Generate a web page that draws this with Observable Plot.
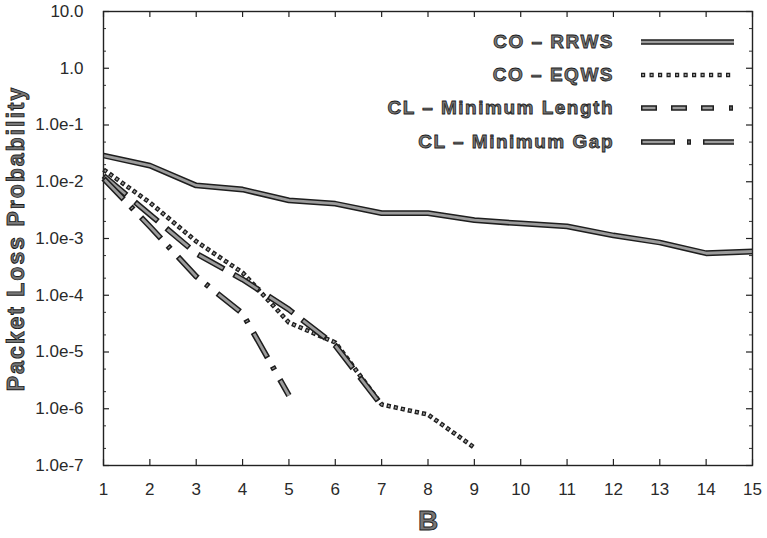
<!DOCTYPE html>
<html><head><meta charset="utf-8">
<script src="https://cdn.jsdelivr.net/npm/d3@7"></script>
<script src="https://cdn.jsdelivr.net/npm/@observablehq/plot@0.6"></script>
<style>
body{margin:0;background:#fff;}
#wrap{position:relative;width:767px;height:538px;}
#wrap svg{font-family:"Liberation Sans",Arial,Helvetica,sans-serif;}
g[aria-label="y-axis label"] text, g[aria-label="x-axis label"] text{font-weight:bold;fill:#777;stroke:#1a1a1a;stroke-width:0.9px;}
g[aria-label="y-axis label"] text{font-size:23px;letter-spacing:2px;}
g[aria-label="x-axis label"] text{font-size:28px;}
#legend{position:absolute;left:300px;top:25px;width:440px;font-family:"Liberation Sans",Arial,Helvetica,sans-serif;}
#legend .row{display:flex;align-items:center;height:33.3px;}
#legend .lab{width:314px;text-align:right;font-weight:bold;font-size:19px;letter-spacing:1.5px;color:#777;-webkit-text-stroke:0.8px #1a1a1a;white-space:nowrap;}
#legend svg{margin-left:26px;}
</style>
</head><body>
<div id="wrap"><div id="legend"></div></div>
<script>
// ---- data ----
const B = [1,2,3,4,5,6,7,8,9,10,11,12,13,14,15];
const seriesNames = ["CO – RRWS", "CO – EQWS", "CL – Minimum Length", "CL – Minimum Gap"];
const rrws = [0.029, 0.0193, 0.0086, 0.0073, 0.0047, 0.0041, 0.0028, 0.0028, 0.0021, 0.00184, 0.00163, 0.00113, 0.00085, 0.00055, 0.00059];
const eqws = [0.0164, 0.0043, 8.9e-4, 2.5e-4, 3.3e-5, 1.47e-5, 1.19e-6, 7.9e-7, 2.07e-7];
const minLength = [0.0128, 0.00265, 5.45e-4, 1.9e-4, 5.6e-5, 1.3e-5, 1.14e-6];
const minGap = [0.0114, 0.00163, 2.14e-4, 4.77e-5, 1.71e-6];
const yTicks = [10, 1, 1e-1, 1e-2, 1e-3, 1e-4, 1e-5, 1e-6, 1e-7];
const yTickLabels = ["10.0", "1.0", "1.0e-1", "1.0e-2", "1.0e-3", "1.0e-4", "1.0e-5", "1.0e-6", "1.0e-7"];
const xTickLabels = B.map(String);

// ---- styles ----
const OUT = "#1e1e1e", IN = "#9c9c9c";
const styles = [
  {outer: null, inner: null, off: 0, wo: 5.8, wi: 2.8},
  {outer: "4.2 3", inner: "1.8 5.4", off: -1.2, wo: 4.6, wi: 1.9},
  {outer: "30 11", inner: "27 14", off: -1.5, wo: 5.8, wi: 2.8},
  {outer: "29 10 4 11", inner: "26 13 1 14", off: -1.5, wo: 5.8, wi: 2.8}
];
const valuesList = [rrws, eqws, minLength, minGap];
const rows = valuesList.flatMap((vals, s) => vals.map((p, i) => ({s, B: B[i], p})));

const minorTicks = d3.range(-7, 1).flatMap(k => [2 * 10 ** k, 5 * 10 ** k]);
const fmtY = d => yTickLabels[yTicks.findIndex(t => Math.abs(Math.log10(t) - Math.log10(d)) < 1e-6)];

const PW = 767 - 103 - 15, PH = 538 - 11 - 73;
const lineMarks = [];
styles.forEach((st, s) => {
  const data = rows.filter(r => r.s === s);
  lineMarks.push(Plot.line(data, {x: "B", y: "p", stroke: OUT, strokeWidth: st.wo, strokeDasharray: st.outer, strokeLinejoin: "round", strokeLinecap: "butt"}));
  lineMarks.push(Plot.line(data, {x: "B", y: "p", stroke: IN, strokeWidth: st.wi, strokeDasharray: st.inner, strokeDashoffset: st.off, strokeLinejoin: "round", strokeLinecap: "butt"}));
});

const chart = Plot.plot({
  width: 767, height: 538,
  marginLeft: 103, marginRight: 15, marginTop: 11, marginBottom: 73,
  style: {fontFamily: "Liberation Sans, Arial, Helvetica, sans-serif", fontSize: "17px", color: "#2a2a2a", background: "white"},
  x: {domain: [1, 15]},
  y: {type: "log", domain: [1e-7, 10]},
  marks: [
    Plot.axisX({ticks: B, tickSize: 0, tickPadding: 17, tickFormat: d => xTickLabels[B.indexOf(d)], label: "B", labelAnchor: "center", labelArrow: "none", labelOffset: 64}),
    Plot.axisY({ticks: yTicks, tickSize: 0, tickPadding: 20, tickFormat: fmtY, label: "Packet Loss Probability", labelAnchor: "center", labelArrow: "none", labelOffset: 96}),
    Plot.tickX(B, {x: d => d, insetTop: PH - 6, stroke: "#222", strokeWidth: 1.2}),
    Plot.tickX(B, {x: d => d, insetBottom: PH - 6, stroke: "#222", strokeWidth: 1.2}),
    Plot.tickY(yTicks, {y: d => d, insetRight: PW - 6, stroke: "#222", strokeWidth: 1.2}),
    Plot.tickY(yTicks, {y: d => d, insetLeft: PW - 6, stroke: "#222", strokeWidth: 1.2}),
    Plot.tickY(minorTicks, {y: d => d, insetRight: PW - 3, stroke: "#333"}),
    Plot.tickY(minorTicks, {y: d => d, insetLeft: PW - 3, stroke: "#333"}),
    ...lineMarks,
    Plot.frame({stroke: "#222", strokeWidth: 1.4})
  ]
});
document.getElementById("wrap").prepend(chart);

// ---- legend ----
const legend = d3.select("#legend");
seriesNames.forEach((name, s) => {
  const row = legend.append("div").attr("class", "row");
  row.append("span").attr("class", "lab").text(name);
  const svg = row.append("svg").attr("width", 95).attr("height", 10);
  const lg = [
    {o: null, i: null, off: 0, wo: 5.4, wi: 2.6},
    {o: "4.2 4.3", i: "1.8 6.7", off: -1.2, wo: 4.5, wi: 1.8},
    {o: "16 14 16 14 13 15 4 30", i: "13 17 13 17 10 18 1 33", off: -1.5, wo: 5.4, wi: 2.6},
    {o: "34 12 4 12 40", i: "31 15 1 15 37", off: -1.5, wo: 5.4, wi: 2.6}
  ][s];
  [[OUT, lg.wo, lg.o, 0], [IN, lg.wi, lg.i, lg.off]].forEach(([c, w, da, off]) => {
    svg.append("line").attr("x1", 1).attr("x2", 94).attr("y1", 5).attr("y2", 5)
      .attr("stroke", c).attr("stroke-width", w)
      .attr("stroke-dasharray", da).attr("stroke-dashoffset", off);
  });
});
</script>
</body></html>
